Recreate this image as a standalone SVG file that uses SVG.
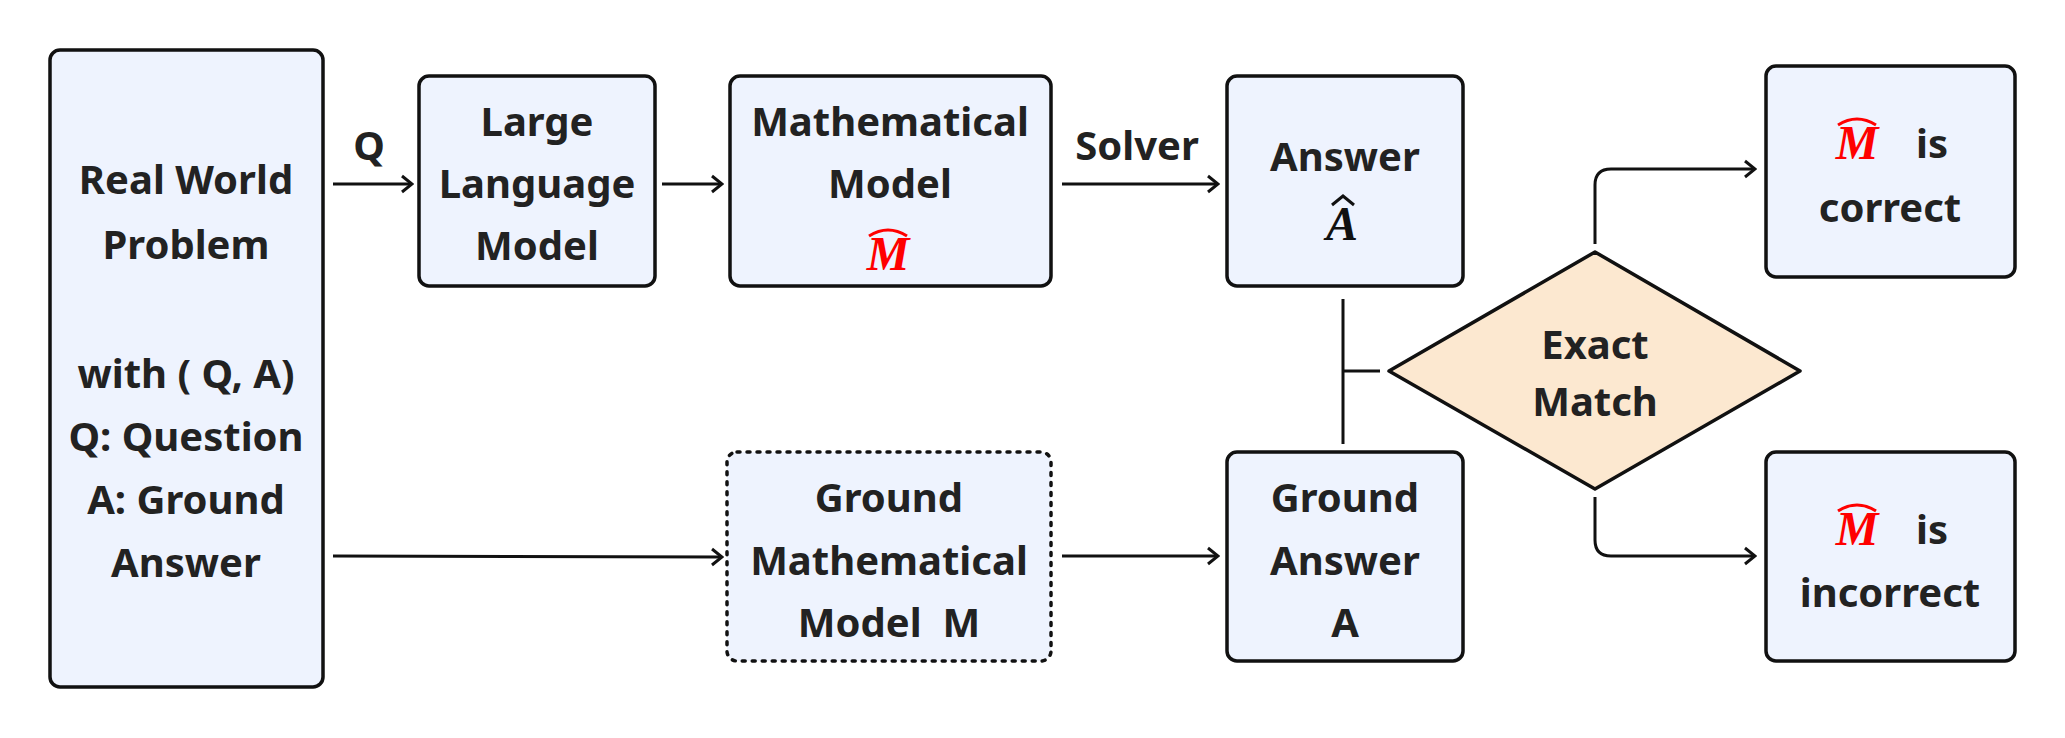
<svg xmlns="http://www.w3.org/2000/svg" width="2065" height="738" viewBox="0 0 2065 738">
<style>
.b{fill:#EEF3FE;stroke:#111;stroke-width:3.5}
.t{font-family:"Noto Sans","DejaVu Sans",sans-serif;font-weight:bold;font-size:40px;fill:#222;text-anchor:middle}
.m{font-family:"Liberation Serif",serif;font-weight:bold;font-style:italic;font-size:48px;text-anchor:middle}
.c{fill:none;stroke:#111;stroke-width:3}
.h{fill:none;stroke-width:3}
</style>
<defs><marker id="a" markerWidth="14" markerHeight="20" refX="12" refY="10" orient="auto" markerUnits="userSpaceOnUse"><path d="M2,2 L12,10 L2,18" fill="none" stroke="#111" stroke-width="3"/></marker></defs>
<rect width="2065" height="738" fill="#fff"/>
<g id="real"><rect class="b" x="50" y="50" width="273" height="637" rx="10"/>
<text class="t" x="186" y="194">Real World</text><text class="t" x="186" y="259">Problem</text>
<text class="t" x="186" y="388">with ( Q, A)</text><text class="t" x="186" y="451">Q: Question</text><text class="t" x="186" y="514">A: Ground</text><text class="t" x="186" y="577">Answer</text></g>
<g id="llm"><rect class="b" x="419" y="76" width="236" height="210" rx="10"/>
<text class="t" x="537" y="136">Large</text><text class="t" x="537" y="198">Language</text><text class="t" x="537" y="260">Model</text></g>
<g id="mm"><rect class="b" x="730" y="76" width="321" height="210" rx="10"/>
<text class="t" x="890" y="136">Mathematical</text><text class="t" x="890" y="198">Model</text>
<text class="m" x="888" y="270" fill="#f00">M</text><path class="h" stroke="#f00" d="M869,236 Q888,224 907,236"/></g>
<g id="ans"><rect class="b" x="1227" y="76" width="236" height="210" rx="10"/>
<text class="t" x="1345" y="171">Answer</text>
<text class="m" x="1342" y="240" fill="#111">A</text><path class="h" stroke="#111" d="M1332,205 L1343,196 L1354,205"/></g>
<g id="gmm"><rect class="b" x="727" y="452" width="324" height="209" rx="10" stroke-dasharray="3,7" stroke-linecap="round"/>
<text class="t" x="889" y="512">Ground</text><text class="t" x="889" y="575">Mathematical</text><text class="t" x="889" y="637" xml:space="preserve">Model  M</text></g>
<g id="ga"><rect class="b" x="1227" y="452" width="236" height="209" rx="10"/>
<text class="t" x="1345" y="512">Ground</text><text class="t" x="1345" y="575">Answer</text><text class="t" x="1345" y="637">A</text></g>
<g id="em"><path d="M1595,252 L1800,371 L1595,489 L1389,371 Z" fill="#FCE8D0" stroke="#111" stroke-width="3.5" stroke-linejoin="round"/>
<text class="t" x="1595" y="359">Exact</text><text class="t" x="1595" y="416">Match</text></g>
<g id="cor"><rect class="b" x="1766" y="66" width="249" height="211" rx="10"/>
<text class="m" x="1857" y="159" fill="#f00">M</text><path class="h" stroke="#f00" d="M1838,125 Q1857,113 1876,125"/>
<text class="t" x="1932" y="158">is</text><text class="t" x="1890" y="222">correct</text></g>
<g id="inc"><rect class="b" x="1766" y="452" width="249" height="209" rx="10"/>
<text class="m" x="1857" y="545" fill="#f00">M</text><path class="h" stroke="#f00" d="M1838,511 Q1857,499 1876,511"/>
<text class="t" x="1932" y="544">is</text><text class="t" x="1890" y="607">incorrect</text></g>
<g id="connectors">
<path class="c" d="M333,184 L412,184" marker-end="url(#a)"/>
<text class="t" x="369" y="160">Q</text>
<path class="c" d="M662,184 L722,184" marker-end="url(#a)"/>
<path class="c" d="M1062,184 L1218,184" marker-end="url(#a)"/>
<text class="t" x="1137" y="160">Solver</text>
<path class="c" d="M333,556 L722,557" marker-end="url(#a)"/>
<path class="c" d="M1062,556 L1218,556" marker-end="url(#a)"/>
<path class="c" d="M1343,299 L1343,444 M1343,371 L1380,371"/>
<path class="c" d="M1595,244 L1595,185 Q1595,169 1611,169 L1755,169" marker-end="url(#a)"/>
<path class="c" d="M1595,497 L1595,540 Q1595,556 1611,556 L1755,556" marker-end="url(#a)"/>
</g>
</svg>
